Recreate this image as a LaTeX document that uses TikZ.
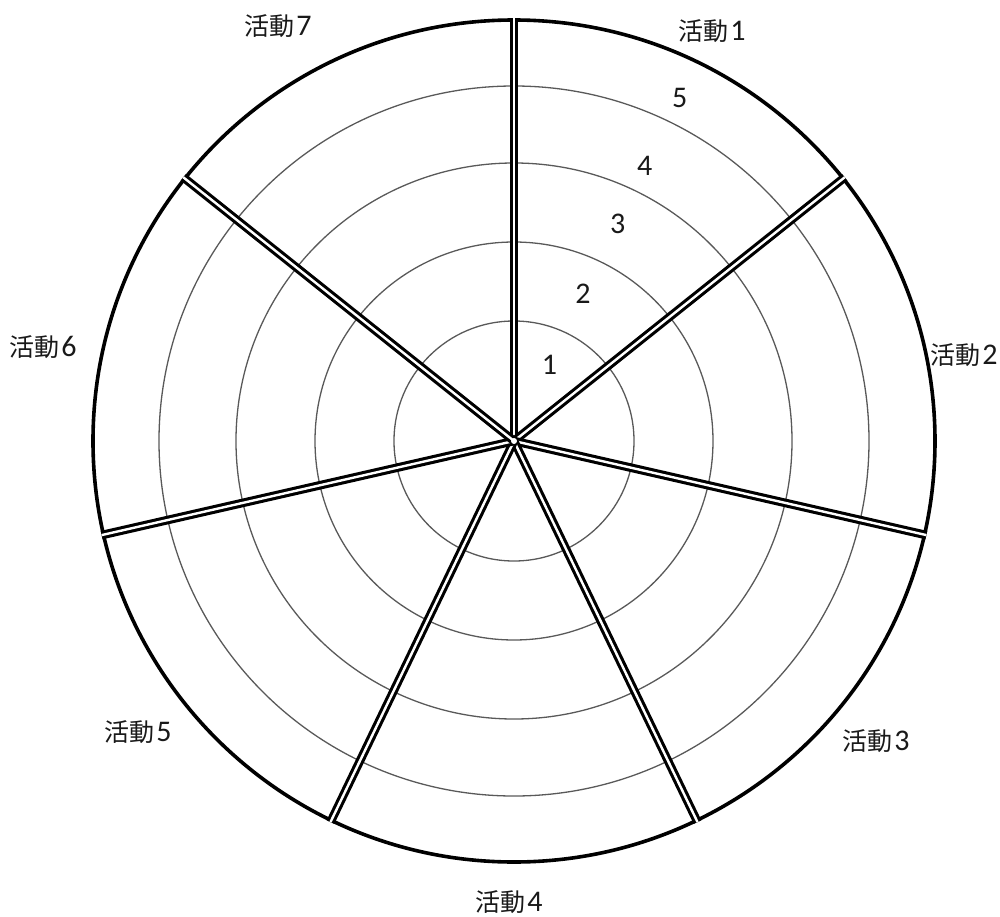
\documentclass[tikz,border=0pt]{standalone}
\usepackage{fontspec}
\setmainfont{Carlito}
\newfontfamily\cjk{Noto Sans CJK TC}
\begin{document}
\begin{tikzpicture}[
  x=0.5pt,y=0.5pt,
  font=\fontsize{15}{17}\selectfont,
  ring/.style={draw=black!65, line width=0.65pt},
  rim/.style={draw=black, line width=1.8pt},
  spoke/.style={draw=black, line width=1.55pt, double=white, double distance=1.2pt},
  act/.style={text=black!90, inner sep=0pt},
  level/.style={text=black!90, font=\fontsize{15}{17}\selectfont, inner sep=0pt}
]
  \useasboundingbox (-514,-475) rectangle (486,441);
  \coordinate (c) at (0,0);

  % rings 1-4 and the rim
  \draw[ring] (c) circle (120);
  \draw[ring] (c) circle (199);
  \draw[ring] (c) circle (278);
  \draw[ring] (c) circle (355);
  \draw[rim] (c) circle (421);

  % sector borders
  \draw[spoke] (c) -- (90:423);
  \draw[spoke] (c) -- (38.571:423);
  \draw[spoke] (c) -- (-12.857:423);
  \draw[spoke] (c) -- (-64.286:423);
  \draw[spoke] (c) -- (-115.714:423);
  \draw[spoke] (c) -- (-167.143:423);
  \draw[spoke] (c) -- (141.429:423);
  \fill[white] (c) circle (3);

  % scale values
  \node[level] (v1) at (65:84) {1};
  \node[level] (v2) at (65:163) {2};
  \node[level] (v3) at (64.5:241) {3};
  \node[level] (v4) at (64.6:305) {4};
  \node[level] (v5) at (64.2:381) {5};

  % activity labels
  \node[act] (a1) at (198,410) {{\cjk\fontsize{12.5}{15}\selectfont 活動}\kern1pt 1};
  \node[act] (a2) at (450,86) {{\cjk\fontsize{12.5}{15}\selectfont 活動}\kern1pt 2};
  \node[act] (a3) at (362,-300) {{\cjk\fontsize{12.5}{15}\selectfont 活動}\kern1pt 3};
  \node[act] (a4) at (-5,-461) {{\cjk\fontsize{12.5}{15}\selectfont 活動}\kern1pt 4};
  \node[act] (a5) at (-376,-291) {{\cjk\fontsize{12.5}{15}\selectfont 活動}\kern1pt 5};
  \node[act] (a6) at (-471,94) {{\cjk\fontsize{12.5}{15}\selectfont 活動}\kern1pt 6};
  \node[act] (a7) at (-236,415) {{\cjk\fontsize{12.5}{15}\selectfont 活動}\kern1pt 7};
\end{tikzpicture}
\end{document}
